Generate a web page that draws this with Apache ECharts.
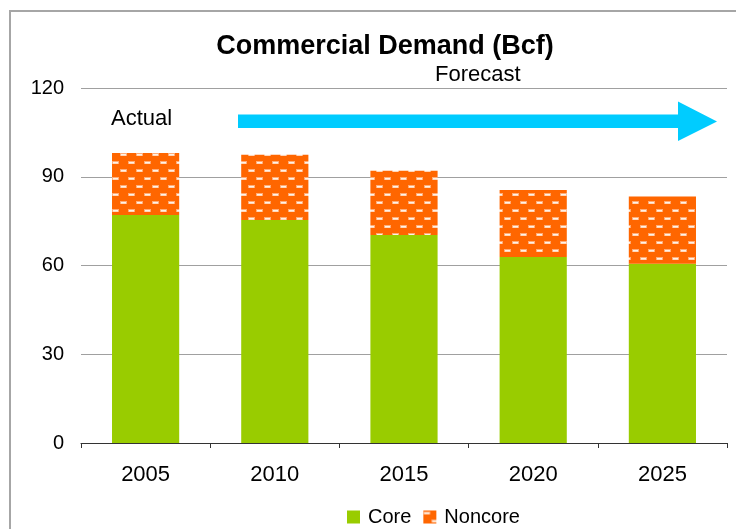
<!DOCTYPE html>
<html>
<head>
<meta charset="utf-8">
<script src="https://cdn.jsdelivr.net/npm/echarts@6/dist/echarts.min.js"></script>
<style>
html,body{margin:0;padding:0;background:#fff;}
#c{width:736px;height:529px;}
</style>
</head>
<body>
<div id="c"></div>
<script>
var categories = ['2005', '2010', '2015', '2020', '2025'];
var coreValues = [77.1, 75.4, 70.3, 62.9, 60.6];
var noncoreValues = [20.9, 22.0, 21.7, 22.6, 22.7];
var yTicks = [0, 30, 60, 90, 120];

function makePattern() {
  var c = document.createElement('canvas');
  c.width = 16; c.height = 16;
  var g = c.getContext('2d');
  g.fillStyle = '#FF6600';
  g.fillRect(0, 0, 16, 16);
  g.fillStyle = 'rgba(255,190,150,0.8)';
  g.fillRect(0, 1, 7, 3);
  g.fillRect(8, 9, 7, 3);
  g.fillStyle = 'rgba(255,245,235,0.95)';
  g.fillRect(1, 2, 5, 1.6);
  g.fillRect(9, 10, 5, 1.6);
  return c;
}

var chart = echarts.init(document.getElementById('c'), null, {renderer: 'canvas'});
var FONT = '"Liberation Sans", Arial, sans-serif';
var option = {
  animation: false,
  backgroundColor: '#fff',
  title: {
    text: 'Commercial Demand (Bcf)',
    left: 380, top: 28, textAlign: 'center',
    textStyle: {fontFamily: FONT, fontSize: 27, fontWeight: 'bold', color: '#000'}
  },
  legend: {
    left: 342, top: 502,
    itemWidth: 13, itemHeight: 13, itemGap: 12,
    icon: 'rect',
    textStyle: {fontFamily: FONT, fontSize: 20, color: '#000', padding: [0, 0, 0, 3]},
    data: ['Core', 'Noncore']
  },
  grid: {left: 81, right: 9, top: 88, bottom: 86, containLabel: false},
  xAxis: {
    type: 'category',
    data: categories,
    axisLine: {lineStyle: {color: '#333', width: 1}},
    axisTick: {show: true, length: 5, lineStyle: {color: '#333'}},
    axisLabel: {fontFamily: FONT, fontSize: 22, color: '#000', margin: 21}
  },
  yAxis: {
    type: 'value',
    min: yTicks[0], max: yTicks[yTicks.length - 1], interval: 30,
    axisLine: {show: false},
    axisTick: {show: false},
    axisLabel: {fontFamily: FONT, fontSize: 20, color: '#000', margin: 17},
    splitLine: {lineStyle: {color: '#a0a0a0', width: 1}}
  },
  series: [
    {
      name: 'Core', type: 'bar', stack: 'd', barWidth: '52%',
      itemStyle: {color: '#99CC00'},
      data: coreValues
    },
    {
      name: 'Noncore', type: 'bar', stack: 'd', barWidth: '52%',
      itemStyle: {color: {image: makePattern(), repeat: 'repeat'}},
      data: noncoreValues
    }
  ],
  graphic: [
    {type: 'rect', shape: {x: 10, y: 11, width: 800, height: 600},
     style: {fill: 'none', stroke: '#a6a6a6', lineWidth: 2}, z: 100},
    {type: 'text', left: 111, top: 108,
     style: {text: 'Actual', font: '22px ' + FONT, fill: '#000'}},
    {type: 'text', left: 435, top: 64,
     style: {text: 'Forecast', font: '22px ' + FONT, fill: '#000'}},
    {type: 'polygon',
     shape: {points: [[238, 114.5], [678, 114.5], [678, 101.5], [717, 121.5], [678, 141], [678, 128], [238, 128]]},
     style: {fill: '#00CCFF'}}
  ]
};
chart.setOption(option);
</script>
</body>
</html>
